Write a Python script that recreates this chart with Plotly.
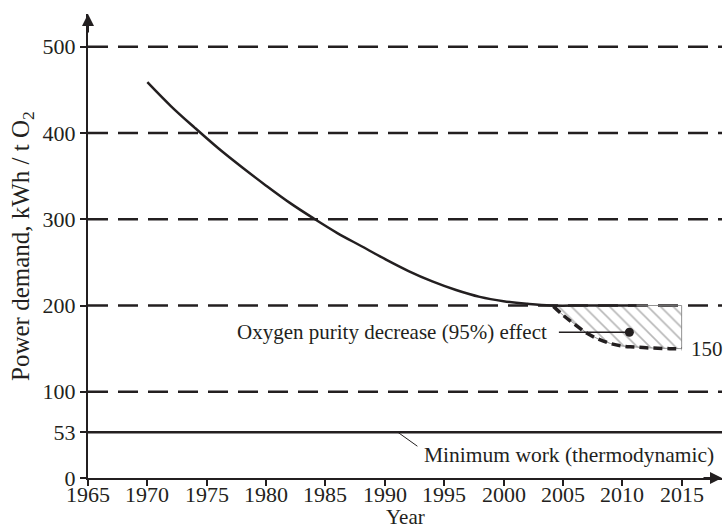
import plotly.graph_objects as go

# main trend (solid)
years = [1970, 1972, 1974, 1976, 1978, 1980, 1982, 1984, 1986, 1988, 1990,
         1992, 1994, 1996, 1998, 2000, 2002, 2004, 2007, 2011.2]
power = [459, 431, 406, 382, 360, 339, 319, 301, 284, 269, 254,
         240, 228, 218, 210, 205, 202, 200, 200, 200]

# 95% purity effect (dashed)
purity_years = [2004.2, 2005, 2006, 2007, 2008, 2009, 2010, 2011, 2012, 2013, 2014, 2015]
purity_power = [199, 189, 178, 168, 161, 156, 153, 152, 151, 150.5, 150, 150]

grid_levels = [100, 200, 300, 400, 500]
min_work = 53
marker_pt = (2010.6, 169)
x_ticks = [1965, 1970, 1975, 1980, 1985, 1990, 1995, 2000, 2005, 2010, 2015]
y_ticks = [0, 53, 100, 200, 300, 400, 500]

INK = "#231f20"
FONT = "Liberation Serif, Times New Roman, serif"

fig = go.Figure()

# hatched region between 200 and the purity curve
fig.add_trace(go.Scatter(
    x=[purity_years[0]] + [purity_years[-1]] + purity_years[::-1],
    y=[200, 200] + purity_power[::-1],
    fill="toself", mode="lines",
    line=dict(color="rgba(120,120,120,0.8)", width=1),
    fillcolor="rgba(0,0,0,0)",
    fillpattern=dict(shape="\\", fgcolor="#6f6f6f", bgcolor="rgba(0,0,0,0)", size=9, solidity=0.18),
    hoverinfo="skip", showlegend=False,
))

for lv in grid_levels:
    fig.add_hline(y=lv, line=dict(color=INK, width=2.5, dash="20px,10px"), layer="below")
fig.add_hline(y=min_work, line=dict(color=INK, width=2.5))

fig.add_trace(go.Scatter(
    x=years, y=power, mode="lines",
    line=dict(color=INK, width=2.5, shape="spline"), showlegend=False,
))
fig.add_trace(go.Scatter(
    x=purity_years, y=purity_power, mode="lines",
    line=dict(color=INK, width=3.5, dash="9px,5px", shape="spline"), showlegend=False,
))
fig.add_trace(go.Scatter(
    x=[marker_pt[0]], y=[marker_pt[1]], mode="markers",
    marker=dict(color=INK, size=9), showlegend=False,
))

# labels
fig.add_annotation(x=marker_pt[0], y=marker_pt[1], ax=-72, ay=0,
                   axref="pixel", ayref="pixel", showarrow=True, arrowhead=0,
                   arrowwidth=1.5, arrowcolor=INK, text="")
fig.add_annotation(x=2003.8, y=marker_pt[1], xanchor="right", yanchor="middle",
                   text="Oxygen purity decrease (95%) effect", showarrow=False,
                   font=dict(size=21, color=INK, family=FONT))
fig.add_annotation(x=2015.6, y=150, xanchor="left", yanchor="middle", text="150",
                   showarrow=False, font=dict(size=21, color=INK, family=FONT))
fig.add_annotation(x=1991.1, y=min_work, ax=21, ay=15, axref="pixel", ayref="pixel",
                   showarrow=True, arrowhead=0, arrowwidth=1, arrowcolor=INK, text="")
fig.add_annotation(x=1993.1, y=27, xanchor="left", yanchor="middle",
                   text="Minimum work (thermodynamic)", showarrow=False,
                   font=dict(size=21.5, color=INK, family=FONT))

# x tick labels, placed closer to the axis than plotly's default
for yr in x_ticks:
    fig.add_annotation(x=yr, y=0, xref="x", yref="paper", yanchor="middle", yshift=-16,
                       text=str(yr), showarrow=False,
                       font=dict(size=22, color=INK, family=FONT))

# axis titles
fig.add_annotation(x=0.5, y=0, xref="paper", yref="paper", yanchor="middle", yshift=-39,
                   text="Year", showarrow=False,
                   font=dict(size=21, color=INK, family=FONT))
fig.add_annotation(x=0, y=0.5, xref="paper", yref="paper", xanchor="center",
                   xshift=-66, textangle=-90,
                   text="Power demand, kWh / t O<sub>2</sub>", showarrow=False,
                   font=dict(size=25, color=INK, family=FONT))

# axis arrows
fig.add_annotation(x=1, y=0, xref="paper", yref="paper", ax=-20, ay=0,
                   showarrow=True, arrowhead=2, arrowsize=1.2, arrowwidth=2,
                   arrowcolor=INK, text="")
fig.add_annotation(x=0, y=1, xref="paper", yref="paper", ax=0, ay=20,
                   showarrow=True, arrowhead=2, arrowsize=1.2, arrowwidth=2,
                   arrowcolor=INK, text="")

fig.update_xaxes(
    range=[1965, 2018.4], tickvals=x_ticks, showticklabels=False,
    showgrid=False, zeroline=False,
    showline=True, linecolor=INK, linewidth=2, ticks="outside", ticklen=6,
    tickwidth=1.5, tickcolor=INK, automargin=False,
)
fig.update_yaxes(
    range=[0, 538], tickvals=y_ticks, showgrid=False, zeroline=False,
    showline=True, linecolor=INK, linewidth=2, ticks="outside", ticklen=6,
    tickwidth=1.5, tickcolor=INK, automargin=False,
    tickfont=dict(size=22, color=INK, family=FONT),
)
fig.update_layout(
    width=725, height=528,
    margin=dict(l=88, r=3, t=14, b=50),
    plot_bgcolor="white", paper_bgcolor="white",
    showlegend=False,
)
fig.write_html("out.html", config={"displayModeBar": False},
               post_script="document.body.style.margin='0';")
